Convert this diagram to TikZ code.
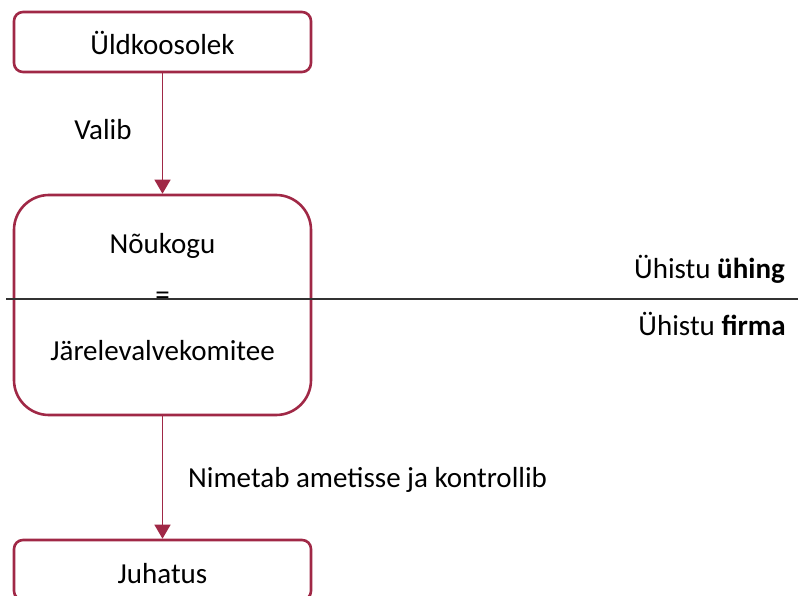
\documentclass[tikz,border=0pt]{standalone}
\usepackage{fontspec}
\setmainfont{Carlito}
\usetikzlibrary{arrows.meta}
\definecolor{boxred}{RGB}{160,40,70}
\definecolor{linegray}{RGB}{50,50,50}
\tikzset{
  box/.style = {draw = boxred, line width = 2.6pt, minimum width = 297pt, inner sep = 0pt,
    font = \fontsize{29}{35}\selectfont, text height = 26pt, text depth = 0pt},
  link/.style = {draw = boxred, line width = 1.4pt, -{Triangle[width = 16pt, length = 14pt]}},
  lbl/.style = {font = \fontsize{29}{35}\selectfont, inner sep = 0pt, anchor = base},
}
\begin{document}
\begin{tikzpicture}[x = 1pt, y = -1pt]
\useasboundingbox (0, 0) rectangle (798, 596);
\node [box, minimum height = 60pt, rounded corners = 9pt] (uld) at (162.5, 42) {Üldkoosolek};
\node [box, minimum height = 220pt, rounded corners = 35pt] (nou) at (162.5, 305) {};
\node [box, minimum height = 60pt, rounded corners = 9pt] (juh) at (162.5, 570) {Juhatus};
\node [lbl] (noutxt) at (162.5, 254) {Nõukogu};
\node [lbl, anchor = center] (eq) at (162.5, 298.5) {=};
\node [lbl] (jartxt) at (162.5, 360) {Järelevalvekomitee};
\draw [link] (uld) -- (nou);
\draw [link] (nou) -- (juh);
\node [lbl] (valib) at (103, 140) {Valib};
\node [lbl, anchor = base west] (nimetab) at (188, 487) {Nimetab ametisse ja kontrollib};
% eraldusjoon
\coordinate (lineL) at (6, 299);
\coordinate (lineR) at (798, 299);
\draw [linegray, line width = 1.3pt] (lineL) -- (lineR);
\node [lbl, anchor = base east] (uhing) at (785, 278) {Ühistu \textbf{ühing}};
\node [lbl, anchor = base east] (firma) at (786, 335) {Ühistu \textbf{firma}};
\end{tikzpicture}
\end{document}
